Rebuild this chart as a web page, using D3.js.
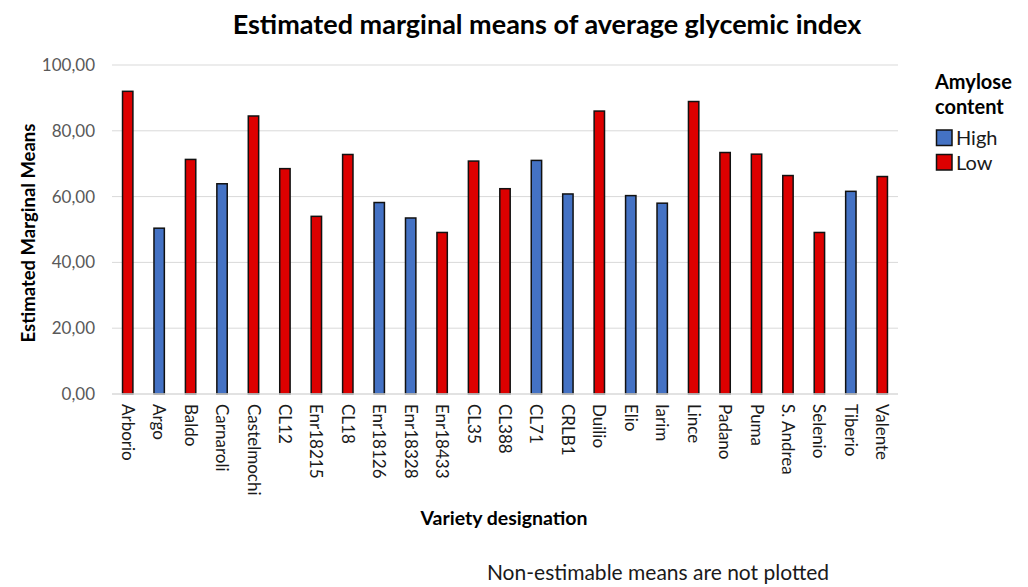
<!DOCTYPE html>
<html>
<head>
<meta charset="utf-8">
<script src="https://cdn.jsdelivr.net/npm/d3@7"></script>
<style>
  html, body { margin: 0; padding: 0; background: #fff; }
  svg { display: block; font-family: Lato, "Open Sans", sans-serif; }
</style>
</head>
<body>
<svg id="chart" width="1028" height="587"></svg>
<script>
// Rice varieties along the x axis
const varieties = ["Arborio", "Argo", "Baldo", "Carnaroli", "Castelmochi", "CL12", "Enr18215", "CL18",
  "Enr18126", "Enr18328", "Enr18433", "CL35", "CL388", "CL71", "CRLB1", "Duilio", "Elio", "Iarim",
  "Lince", "Padano", "Puma", "S. Andrea", "Selenio", "Tiberio", "Valente"];

// Amylose class for each variety
const amylose = ["Low", "High", "Low", "High", "Low", "Low", "Low", "Low",
  "High", "High", "Low", "Low", "Low", "High", "High", "Low", "High", "High",
  "Low", "Low", "Low", "Low", "Low", "High", "Low"];

// Estimated marginal means of average glycemic index
const means = [92.0, 50.4, 71.3, 63.9, 84.5, 68.5, 54.0, 72.8,
  58.2, 53.5, 49.1, 70.8, 62.4, 71.0, 60.8, 86.0, 60.3, 58.0,
  88.9, 73.4, 72.9, 66.4, 49.1, 61.6, 66.1];

const yTicks = [0, 20, 40, 60, 80, 100];
const groups = ["High", "Low"];
const groupColors = ["#4472C4", "#DD0000"];

const svg = d3.select("#chart");
const plotLeft = 112, plotRight = 898, plotTop = 65, plotBottom = 394;

const x = d3.scaleBand().domain(varieties).range([plotLeft, plotRight]).padding(0);
const y = d3.scaleLinear().domain([0, 100]).range([plotBottom, plotTop]);
const color = d3.scaleOrdinal().domain(groups).range(groupColors);
const fmt = v => d3.format(".2f")(v).replace(".", ",");

// Horizontal gridlines
svg.append("g")
  .selectAll("line")
  .data(yTicks.filter(t => t > 0))
  .join("line")
  .attr("x1", plotLeft).attr("x2", plotRight)
  .attr("y1", d => y(d)).attr("y2", d => y(d))
  .attr("stroke", "#d9d9d9").attr("stroke-width", 1);

// Y axis labels
const yAxis = svg.append("g")
  .attr("transform", `translate(${plotLeft},0)`)
  .call(d3.axisLeft(y).tickValues(yTicks).tickFormat(fmt).tickSize(0).tickPadding(17));
yAxis.select(".domain").remove();
yAxis.selectAll("text")
  .attr("fill", "#595959")
  .style("font-size", "17px")
  .style("font-family", "Lato, sans-serif");

// Bars
const barW = x.bandwidth() * 0.33;
svg.append("g")
  .selectAll("rect")
  .data(varieties.map((v, i) => ({ v, g: amylose[i], m: means[i] })))
  .join("rect")
  .attr("x", d => x(d.v) + x.bandwidth() / 2 - barW / 2)
  .attr("y", d => y(d.m))
  .attr("width", barW)
  .attr("height", d => y(0) - y(d.m))
  .attr("fill", d => color(d.g))
  .attr("stroke", "#111")
  .attr("stroke-width", 1.5);

// Baseline
svg.append("line")
  .attr("x1", plotLeft).attr("x2", plotRight)
  .attr("y1", plotBottom).attr("y2", plotBottom)
  .attr("stroke", "#d9d9d9").attr("stroke-width", 1.3);

// X axis labels, rotated to read downward
const xAxis = svg.append("g")
  .attr("transform", `translate(0,${plotBottom})`)
  .call(d3.axisBottom(x).tickSize(0).tickPadding(0));
xAxis.select(".domain").remove();
xAxis.selectAll("text")
  .attr("transform", "translate(0,10) rotate(90)")
  .attr("text-anchor", "start")
  .attr("dy", "0.35em")
  .attr("x", 0).attr("y", 0)
  .attr("fill", "#1a1a1a")
  .style("font-size", "17px")
  .style("font-family", "Lato, sans-serif");

// Title
svg.append("text")
  .attr("x", 547).attr("y", 34)
  .attr("text-anchor", "middle")
  .style("font-size", "27px").style("font-weight", "bold")
  .attr("fill", "#000")
  .text("Estimated marginal means of average glycemic index");

// Axis titles
svg.append("text")
  .attr("transform", `translate(35,233) rotate(-90)`)
  .attr("text-anchor", "middle")
  .style("font-size", "18.5px").style("font-weight", "bold")
  .attr("fill", "#000")
  .text("Estimated Marginal Means");

svg.append("text")
  .attr("x", 504).attr("y", 525)
  .attr("text-anchor", "middle")
  .style("font-size", "19.5px").style("font-weight", "bold")
  .attr("fill", "#000")
  .text("Variety designation");

// Footnote
svg.append("text")
  .attr("x", 658).attr("y", 580)
  .attr("text-anchor", "middle")
  .style("font-size", "21px")
  .attr("fill", "#1a1a1a")
  .text("Non-estimable means are not plotted");

// Legend
const legend = svg.append("g").attr("transform", "translate(935,0)");
legend.append("text").attr("x", 0).attr("y", 89)
  .style("font-size", "20px").style("font-weight", "bold").attr("fill", "#000").text("Amylose");
legend.append("text").attr("x", 0).attr("y", 114)
  .style("font-size", "20px").style("font-weight", "bold").attr("fill", "#000").text("content");
const items = legend.selectAll("g.item")
  .data(groups)
  .join("g")
  .attr("class", "item")
  .attr("transform", (d, i) => `translate(0,${130 + i * 24.5})`);
items.append("rect")
  .attr("x", 1.5).attr("y", 0).attr("width", 15.5).attr("height", 15.5)
  .attr("fill", d => color(d)).attr("stroke", "#111").attr("stroke-width", 1.5);
items.append("text")
  .attr("x", 21).attr("y", 15)
  .style("font-size", "20px").attr("fill", "#1a1a1a")
  .text(d => d);
</script>
</body>
</html>
